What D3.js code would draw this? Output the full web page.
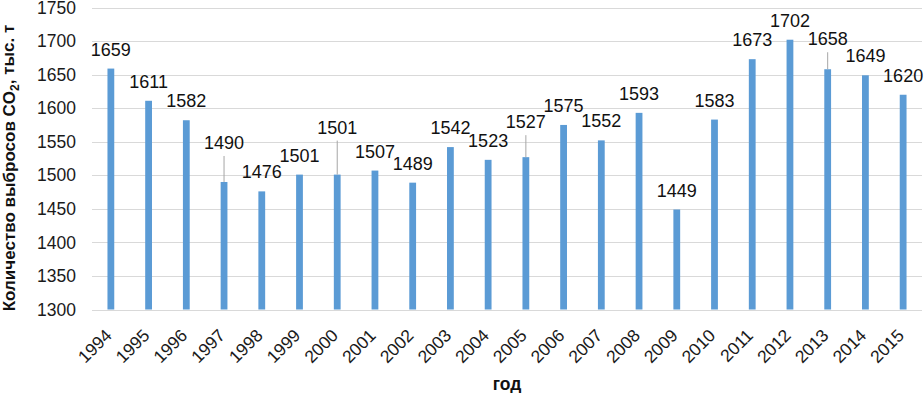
<!DOCTYPE html>
<html>
<head>
<meta charset="utf-8">
<script src="https://cdn.jsdelivr.net/npm/d3@7"></script>
<style>
  body { margin: 0; background: #fff; }
  text { font-family: "Liberation Sans", Arial, sans-serif; }
</style>
</head>
<body>
<div id="chart"></div>
<script>
// CO2 emissions by year, thousand tonnes
const years = ["1994", "1995", "1996", "1997", "1998", "1999", "2000", "2001", "2002", "2003", "2004",
    "2005", "2006", "2007", "2008", "2009", "2010", "2011", "2012", "2013", "2014", "2015"];
const emissions = [1659, 1611, 1582, 1490, 1476, 1501, 1501, 1507, 1489, 1542, 1523,
    1527, 1575, 1552, 1593, 1449, 1583, 1673, 1702, 1658, 1649, 1620];
const yTicks = [1300, 1350, 1400, 1450, 1500, 1550, 1600, 1650, 1700, 1750];

// labels that were dragged up in the original, with a leader line
const leaderLift = { "1997": 20, "2000": 28, "2005": 16, "2013": 11 };

const width = 924;
const height = 393;
const margin = { top: 7.5, right: 2, bottom: 83.5, left: 92 };

const svg = d3.select("#chart")
    .append("svg")
    .attr("width", width)
    .attr("height", height);

const x = d3.scaleBand()
    .domain(years)
    .range([margin.left, width - margin.right])
    .paddingInner(0.82)
    .paddingOuter(0.41);

const y = d3.scaleLinear()
    .domain([1300, 1750])
    .range([height - margin.bottom, margin.top]);

// grid
svg.append("g")
    .selectAll("line")
    .data(yTicks)
    .join("line")
    .attr("x1", margin.left)
    .attr("x2", width - margin.right)
    .attr("y1", d => Math.round(y(d)) + 0.5)
    .attr("y2", d => Math.round(y(d)) + 0.5)
    .attr("stroke", "#d9d9d9")
    .attr("stroke-width", 1);

// y tick labels
svg.append("g")
    .selectAll("text")
    .data(yTicks)
    .join("text")
    .attr("x", margin.left - 16)
    .attr("y", d => y(d))
    .attr("dy", "0.35em")
    .attr("text-anchor", "end")
    .style("font-size", "17.5px")
    .style("fill", "#1a1a1a")
    .text(d => d);

const data = years.map((yr, i) => ({ year: yr, value: emissions[i] }));

// bars
svg.append("g")
    .selectAll("rect")
    .data(data)
    .join("rect")
    .attr("x", d => x(d.year))
    .attr("width", x.bandwidth())
    .attr("y", d => y(d.value))
    .attr("height", d => y(1300) - y(d.value))
    .attr("fill", "#5b9bd5");

// leader lines
svg.append("g")
    .selectAll("line")
    .data(data.filter(d => leaderLift[d.year]))
    .join("line")
    .attr("x1", d => x(d.year) + x.bandwidth() / 2)
    .attr("x2", d => x(d.year) + x.bandwidth() / 2)
    .attr("y1", d => y(d.value) - 13 - leaderLift[d.year] + 7)
    .attr("y2", d => y(d.value))
    .attr("stroke", "#a6a6a6")
    .attr("stroke-width", 1);

// value labels
svg.append("g")
    .selectAll("text")
    .data(data)
    .join("text")
    .attr("x", d => x(d.year) + x.bandwidth() / 2)
    .attr("y", d => y(d.value) - 13 - (leaderLift[d.year] || 0))
    .attr("text-anchor", "middle")
    .style("font-size", "18px")
    .style("fill", "#111")
    .text(d => d.value);

// x tick labels, rotated
svg.append("g")
    .selectAll("text")
    .data(years)
    .join("text")
    .attr("transform", d => `translate(${x(d) + x.bandwidth() / 2 + 2},${y(1300) + 27}) rotate(-45)`)
    .attr("text-anchor", "end")
    .style("font-size", "17.5px")
    .style("fill", "#1a1a1a")
    .text(d => d);

// axis titles
svg.append("text")
    .attr("x", (margin.left + width - margin.right) / 2)
    .attr("y", 390)
    .attr("text-anchor", "middle")
    .style("font-size", "17.5px")
    .style("font-weight", "bold")
    .style("fill", "#111")
    .text("год");

const yTitle = svg.append("text")
    .attr("transform", `translate(15,${168}) rotate(-90)`)
    .attr("text-anchor", "middle")
    .style("font-size", "17px")
    .style("font-weight", "bold")
    .style("fill", "#111");
yTitle.append("tspan").text("Количество выбросов CO");
yTitle.append("tspan").attr("dy", "0.3em").style("font-size", "12px").text("2");
yTitle.append("tspan").attr("dy", "-0.3em").text(", тыс. т");
</script>
</body>
</html>
